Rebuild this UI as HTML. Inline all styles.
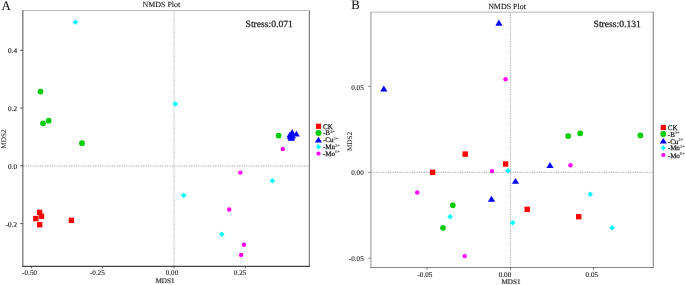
<!DOCTYPE html>
<html><head><meta charset="utf-8"><title>NMDS Plot</title>
<style>html,body{margin:0;padding:0;background:#fff}svg{display:block;will-change:transform}text{text-rendering:geometricPrecision}</style></head>
<body><svg width="685" height="285" viewBox="0 0 685 285">
<rect width="685" height="285" fill="#fff"/>
<line x1="173.95" y1="10.45" x2="173.95" y2="266.3" stroke="#d1d1d1" stroke-width="1.8" stroke-dasharray="1.2 1.2"/>
<line x1="23.0" y1="166.0" x2="309.4" y2="166.0" stroke="#d1d1d1" stroke-width="1.8" stroke-dasharray="1.2 1.2"/>
<line x1="23.0" y1="10.45" x2="309.4" y2="10.45" stroke="#bcbcbc" stroke-width="1.1" />
<line x1="309.4" y1="10.45" x2="309.4" y2="266.3" stroke="#7d7d7d" stroke-width="1.2" />
<line x1="22.8" y1="9.95" x2="22.8" y2="266.90000000000003" stroke="#808080" stroke-width="1.4" />
<line x1="22.6" y1="266.3" x2="310.0" y2="266.3" stroke="#444" stroke-width="1.15" />
<line x1="20.2" y1="50.3" x2="23.0" y2="50.3" stroke="#444" stroke-width="0.9" />
<line x1="20.2" y1="108.1" x2="23.0" y2="108.1" stroke="#444" stroke-width="0.9" />
<line x1="20.2" y1="165.8" x2="23.0" y2="165.8" stroke="#444" stroke-width="0.9" />
<line x1="20.2" y1="223.6" x2="23.0" y2="223.6" stroke="#444" stroke-width="0.9" />
<line x1="31.4" y1="266.3" x2="31.4" y2="268.3" stroke="#444" stroke-width="0.9" />
<line x1="102.6" y1="266.3" x2="102.6" y2="268.3" stroke="#444" stroke-width="0.9" />
<line x1="174.0" y1="266.3" x2="174.0" y2="268.3" stroke="#444" stroke-width="0.9" />
<line x1="245.4" y1="266.3" x2="245.4" y2="268.3" stroke="#444" stroke-width="0.9" />
<text x="17.0" y="53.199999999999996" font-size="7.2" text-anchor="end" fill="#1a1a1a" stroke="#1a1a1a" stroke-width="0.15" font-family="Liberation Serif, serif" >0.4</text>
<text x="17.0" y="111.0" font-size="7.2" text-anchor="end" fill="#1a1a1a" stroke="#1a1a1a" stroke-width="0.15" font-family="Liberation Serif, serif" >0.2</text>
<text x="17.0" y="168.70000000000002" font-size="7.2" text-anchor="end" fill="#1a1a1a" stroke="#1a1a1a" stroke-width="0.15" font-family="Liberation Serif, serif" >0.0</text>
<text x="17.0" y="226.5" font-size="7.2" text-anchor="end" fill="#1a1a1a" stroke="#1a1a1a" stroke-width="0.15" font-family="Liberation Serif, serif" >-0.2</text>
<text x="29.6" y="274.9" font-size="7.2" text-anchor="middle" fill="#1a1a1a" stroke="#1a1a1a" stroke-width="0.1" font-family="Liberation Serif, serif" >-0.50</text>
<text x="97.3" y="274.9" font-size="7.2" text-anchor="middle" fill="#1a1a1a" stroke="#1a1a1a" stroke-width="0.1" font-family="Liberation Serif, serif" >-0.25</text>
<text x="172.0" y="274.9" font-size="7.2" text-anchor="middle" fill="#1a1a1a" stroke="#1a1a1a" stroke-width="0.1" font-family="Liberation Serif, serif" >0.00</text>
<text x="240.1" y="274.9" font-size="7.2" text-anchor="middle" fill="#1a1a1a" stroke="#1a1a1a" stroke-width="0.1" font-family="Liberation Serif, serif" >0.25</text>
<text x="165.0" y="282.8" font-size="7.2" text-anchor="middle" fill="#1a1a1a" stroke="#1a1a1a" stroke-width="0.15" font-family="Liberation Serif, serif" >MDS1</text>
<text x="0" y="0" font-size="7.2" text-anchor="middle" fill="#1a1a1a" stroke="#1a1a1a" stroke-width="0.05" font-family="Liberation Serif, serif" transform="translate(6.3,139.1) rotate(-90)">MDS2</text>
<text x="161.4" y="7.3" font-size="7.95" text-anchor="middle" fill="#1a1a1a" stroke="#1a1a1a" stroke-width="0.12" font-family="Liberation Serif, serif" >NMDS Plot</text>
<text x="1.6" y="9.55" font-size="13.0" text-anchor="start" fill="#1a1a1a" stroke="#1a1a1a" stroke-width="0.12" font-family="Liberation Serif, serif" >A</text>
<text x="245.6" y="27.2" font-size="9.6" text-anchor="start" fill="#1a1a1a" stroke="#1a1a1a" stroke-width="0.25" font-family="Liberation Serif, serif" >Stress:0.071</text>
<rect x="36.90" y="209.70" width="5.4" height="5.4" fill="#ff0000"/>
<rect x="38.80" y="213.50" width="5.4" height="5.4" fill="#ff0000"/>
<rect x="33.10" y="215.90" width="5.4" height="5.4" fill="#ff0000"/>
<rect x="37.00" y="222.00" width="5.4" height="5.4" fill="#ff0000"/>
<rect x="68.70" y="217.60" width="5.4" height="5.4" fill="#ff0000"/>
<circle cx="40.50" cy="91.60" r="2.85" fill="#00cd00"/>
<circle cx="43.00" cy="123.30" r="2.85" fill="#00cd00"/>
<circle cx="48.60" cy="120.70" r="2.85" fill="#00cd00"/>
<circle cx="82.00" cy="143.20" r="2.85" fill="#00cd00"/>
<circle cx="278.60" cy="135.60" r="2.85" fill="#00cd00"/>
<polygon points="75.40,19.40 78.20,22.20 75.40,25.00 72.60,22.20" fill="#00ffff"/>
<polygon points="175.25,101.10 178.05,103.90 175.25,106.70 172.45,103.90" fill="#00ffff"/>
<polygon points="272.40,177.90 275.20,180.70 272.40,183.50 269.60,180.70" fill="#00ffff"/>
<polygon points="183.70,192.60 186.50,195.40 183.70,198.20 180.90,195.40" fill="#00ffff"/>
<polygon points="221.80,231.50 224.60,234.30 221.80,237.10 219.00,234.30" fill="#00ffff"/>
<circle cx="240.30" cy="172.60" r="2.20" fill="#ff00ff"/>
<circle cx="229.20" cy="209.50" r="2.20" fill="#ff00ff"/>
<circle cx="243.90" cy="244.70" r="2.20" fill="#ff00ff"/>
<circle cx="241.10" cy="255.00" r="2.20" fill="#ff00ff"/>
<circle cx="282.80" cy="149.00" r="2.20" fill="#ff00ff"/>
<polygon points="292.20,129.00 288.50,135.40 295.90,135.40" fill="#0000ff"/>
<polygon points="290.40,133.00 286.90,139.00 293.90,139.00" fill="#0000ff"/>
<polygon points="292.60,132.60 289.20,138.40 296.00,138.40" fill="#0000ff"/>
<polygon points="296.40,130.70 293.00,136.50 299.80,136.50" fill="#0000ff"/>
<polygon points="290.00,131.50 286.60,137.30 293.40,137.30" fill="#0000ff"/>
<polygon points="291.00,134.90 287.60,140.70 294.40,140.70" fill="#0000ff"/>
<polygon points="291.70,134.50 288.30,140.30 295.10,140.30" fill="#0000ff"/>
<rect x="315.90" y="123.70" width="5.2" height="5.2" fill="#ff0000"/>
<text x="323.0" y="128.8" font-size="7.0" text-anchor="start" fill="#1a1a1a" stroke="#1a1a1a" stroke-width="0.25" font-family="Liberation Serif, serif" >CK</text>
<circle cx="318.50" cy="132.90" r="3.00" fill="#00cd00"/>
<polygon points="318.50,136.80 314.90,142.40 322.10,142.40" fill="#0000ff"/>
<polygon points="318.50,144.20 321.10,146.80 318.50,149.40 315.90,146.80" fill="#00ffff"/>
<circle cx="318.50" cy="153.60" r="2.10" fill="#ff00ff"/>
<text x="323.0" y="135.40" font-size="7.0" fill="#1a1a1a" stroke="#1a1a1a" stroke-width="0.25" font-family="Liberation Serif, serif">-B<tspan font-size="4.6" dy="-2.7" stroke-width="0.1" fill="#444" stroke="#444">3+</tspan></text>
<text x="323.0" y="142.30" font-size="7.0" fill="#1a1a1a" stroke="#1a1a1a" stroke-width="0.25" font-family="Liberation Serif, serif">-Cu<tspan font-size="4.6" dy="-2.7" stroke-width="0.1" fill="#444" stroke="#444">2+</tspan></text>
<text x="323.0" y="149.30" font-size="7.0" fill="#1a1a1a" stroke="#1a1a1a" stroke-width="0.25" font-family="Liberation Serif, serif">-Mn<tspan font-size="4.6" dy="-2.7" stroke-width="0.1" fill="#444" stroke="#444">2+</tspan></text>
<text x="323.0" y="156.10" font-size="7.0" fill="#1a1a1a" stroke="#1a1a1a" stroke-width="0.25" font-family="Liberation Serif, serif">-Mo<tspan font-size="4.6" dy="-2.7" stroke-width="0.1" fill="#444" stroke="#444">6+</tspan></text>
<line x1="510.4" y1="12.25" x2="510.4" y2="267.55" stroke="#8a8a8a" stroke-width="0.8" stroke-dasharray="1.2 1.2"/>
<line x1="370.95" y1="172.3" x2="653.35" y2="172.3" stroke="#8a8a8a" stroke-width="0.8" stroke-dasharray="1.2 1.2"/>
<line x1="370.95" y1="12.25" x2="653.35" y2="12.25" stroke="#cecece" stroke-width="1.3" />
<line x1="653.35" y1="11.65" x2="653.35" y2="267.55" stroke="#9a9a9a" stroke-width="1.3" />
<line x1="370.95" y1="11.65" x2="370.95" y2="268.05" stroke="#c0c0c0" stroke-width="1.7" />
<line x1="370.15" y1="267.55" x2="653.95" y2="267.55" stroke="#868686" stroke-width="1.05" />
<line x1="368.5" y1="86.4" x2="370.34999999999997" y2="86.4" stroke="#555" stroke-width="0.9" />
<line x1="368.5" y1="172.3" x2="370.34999999999997" y2="172.3" stroke="#555" stroke-width="0.9" />
<line x1="368.5" y1="258.2" x2="370.34999999999997" y2="258.2" stroke="#555" stroke-width="0.9" />
<line x1="427.0" y1="267.55" x2="427.0" y2="269.55" stroke="#555" stroke-width="0.9" />
<line x1="510.4" y1="267.55" x2="510.4" y2="269.55" stroke="#555" stroke-width="0.9" />
<line x1="593.4" y1="267.55" x2="593.4" y2="269.55" stroke="#555" stroke-width="0.9" />
<text x="363.8" y="89.7" font-size="7.2" text-anchor="end" fill="#1a1a1a" stroke="#1a1a1a" stroke-width="0.1" font-family="Liberation Serif, serif" >0.05</text>
<text x="363.8" y="175.20000000000002" font-size="7.2" text-anchor="end" fill="#1a1a1a" stroke="#1a1a1a" stroke-width="0.1" font-family="Liberation Serif, serif" >0.00</text>
<text x="363.8" y="261.09999999999997" font-size="7.2" text-anchor="end" fill="#1a1a1a" stroke="#1a1a1a" stroke-width="0.1" font-family="Liberation Serif, serif" >-0.05</text>
<text x="424.9" y="276.7" font-size="7.2" text-anchor="middle" fill="#1a1a1a" stroke="#1a1a1a" stroke-width="0.12" font-family="Liberation Serif, serif" >-0.05</text>
<text x="505.0" y="276.7" font-size="7.2" text-anchor="middle" fill="#1a1a1a" stroke="#1a1a1a" stroke-width="0.12" font-family="Liberation Serif, serif" >0.00</text>
<text x="591.9" y="276.7" font-size="7.2" text-anchor="middle" fill="#1a1a1a" stroke="#1a1a1a" stroke-width="0.12" font-family="Liberation Serif, serif" >0.05</text>
<text x="511.0" y="284.1" font-size="7.2" text-anchor="middle" fill="#1a1a1a" stroke="#1a1a1a" stroke-width="0.15" font-family="Liberation Serif, serif" >MDS1</text>
<text x="0" y="0" font-size="7.2" text-anchor="middle" fill="#1a1a1a" stroke="#1a1a1a" stroke-width="0.05" font-family="Liberation Serif, serif" transform="translate(352.4,141.5) rotate(-90)">MDS2</text>
<text x="507.0" y="8.8" font-size="7.95" text-anchor="middle" fill="#1a1a1a" stroke="#1a1a1a" stroke-width="0.12" font-family="Liberation Serif, serif" >NMDS Plot</text>
<text x="351.2" y="9.2" font-size="12.8" text-anchor="start" fill="#1a1a1a" stroke="#1a1a1a" stroke-width="0.1" font-family="Liberation Serif, serif" >B</text>
<text x="593.6" y="27.1" font-size="9.6" text-anchor="start" fill="#1a1a1a" stroke="#1a1a1a" stroke-width="0.25" font-family="Liberation Serif, serif" >Stress:0.131</text>
<rect x="462.50" y="151.40" width="5.4" height="5.4" fill="#ff0000"/>
<rect x="502.90" y="161.30" width="5.4" height="5.4" fill="#ff0000"/>
<rect x="429.90" y="169.60" width="5.4" height="5.4" fill="#ff0000"/>
<rect x="524.50" y="206.70" width="5.4" height="5.4" fill="#ff0000"/>
<rect x="576.00" y="214.00" width="5.4" height="5.4" fill="#ff0000"/>
<circle cx="452.80" cy="205.30" r="2.85" fill="#00cd00"/>
<circle cx="443.00" cy="227.80" r="2.85" fill="#00cd00"/>
<circle cx="568.20" cy="136.10" r="2.85" fill="#00cd00"/>
<circle cx="580.30" cy="133.30" r="2.85" fill="#00cd00"/>
<circle cx="640.40" cy="135.40" r="2.85" fill="#00cd00"/>
<polygon points="508.10,168.00 510.90,170.80 508.10,173.60 505.30,170.80" fill="#00ffff"/>
<polygon points="450.10,213.90 452.90,216.70 450.10,219.50 447.30,216.70" fill="#00ffff"/>
<polygon points="512.70,220.00 515.50,222.80 512.70,225.60 509.90,222.80" fill="#00ffff"/>
<polygon points="590.30,191.40 593.10,194.20 590.30,197.00 587.50,194.20" fill="#00ffff"/>
<polygon points="612.20,225.00 615.00,227.80 612.20,230.60 609.40,227.80" fill="#00ffff"/>
<circle cx="505.60" cy="79.20" r="2.20" fill="#ff00ff"/>
<circle cx="492.00" cy="171.10" r="2.20" fill="#ff00ff"/>
<circle cx="417.20" cy="192.50" r="2.20" fill="#ff00ff"/>
<circle cx="464.70" cy="256.10" r="2.20" fill="#ff00ff"/>
<circle cx="570.50" cy="165.20" r="2.20" fill="#ff00ff"/>
<polygon points="498.90,19.60 495.30,25.70 502.50,25.70" fill="#0000ff"/>
<polygon points="383.80,85.40 380.20,91.50 387.40,91.50" fill="#0000ff"/>
<polygon points="515.50,177.90 511.90,183.80 519.10,183.80" fill="#0000ff"/>
<polygon points="491.50,195.80 487.90,201.70 495.10,201.70" fill="#0000ff"/>
<polygon points="550.00,162.00 546.40,168.10 553.60,168.10" fill="#0000ff"/>
<rect x="660.70" y="124.90" width="5.2" height="5.2" fill="#ff0000"/>
<text x="667.8" y="130.0" font-size="7.0" text-anchor="start" fill="#1a1a1a" stroke="#1a1a1a" stroke-width="0.25" font-family="Liberation Serif, serif" >CK</text>
<circle cx="663.30" cy="134.10" r="3.00" fill="#00cd00"/>
<polygon points="663.30,138.00 659.70,143.60 666.90,143.60" fill="#0000ff"/>
<polygon points="663.30,145.20 665.90,147.80 663.30,150.40 660.70,147.80" fill="#00ffff"/>
<circle cx="663.30" cy="155.00" r="2.10" fill="#ff00ff"/>
<text x="667.8" y="136.60" font-size="7.0" fill="#1a1a1a" stroke="#1a1a1a" stroke-width="0.25" font-family="Liberation Serif, serif">-B<tspan font-size="4.6" dy="-2.7" stroke-width="0.1" fill="#444" stroke="#444">3+</tspan></text>
<text x="667.8" y="143.50" font-size="7.0" fill="#1a1a1a" stroke="#1a1a1a" stroke-width="0.25" font-family="Liberation Serif, serif">-Cu<tspan font-size="4.6" dy="-2.7" stroke-width="0.1" fill="#444" stroke="#444">2+</tspan></text>
<text x="667.8" y="150.30" font-size="7.0" fill="#1a1a1a" stroke="#1a1a1a" stroke-width="0.25" font-family="Liberation Serif, serif">-Mn<tspan font-size="4.6" dy="-2.7" stroke-width="0.1" fill="#444" stroke="#444">2+</tspan></text>
<text x="667.8" y="157.50" font-size="7.0" fill="#1a1a1a" stroke="#1a1a1a" stroke-width="0.25" font-family="Liberation Serif, serif">-Mo<tspan font-size="4.6" dy="-2.7" stroke-width="0.1" fill="#444" stroke="#444">6+</tspan></text>
</svg></body></html>
